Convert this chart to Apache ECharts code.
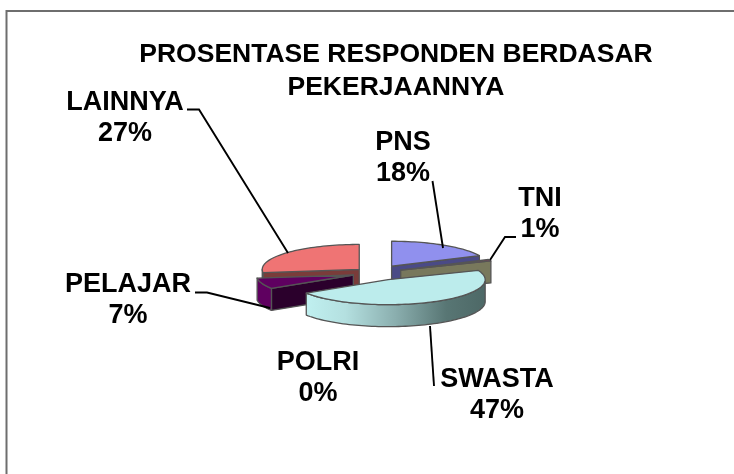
<!DOCTYPE html>
<html>
<head>
<meta charset="utf-8">
<style>html,body{margin:0;padding:0;background:#fff}#c{width:734px;height:474px}</style>
<script src="https://cdn.jsdelivr.net/npm/echarts@6/dist/echarts.min.js"></script>
</head>
<body>
<div id="c"></div>
<script>
// Data
const categories = ['PNS', 'TNI', 'SWASTA', 'POLRI', 'PELAJAR', 'LAINNYA'];
const values = [18, 1, 47, 0, 7, 27];
const titleLines = ['PROSENTASE RESPONDEN BERDASAR', 'PEKERJAANNYA'];

// Styles and layout
const explode = [31, 28, 29, 0, 23, 21];
const topColors = ['#9090ee', '#a02c60', '#bcecec', '#ffffff', '#5f0060', '#ef7474'];
const cutColors = ['#4a4a86', '#78785c', '#bcecec', '#ffffff', '#2b002c', '#7a3c3a'];
const drawOrder = [5, 0, 1, 4, 2];
const labelPos = [[403, 158], [540, 214], [497, 395], [318, 378], [128, 300], [125, 118]];
const leaders = [
  [[432.5, 181], [443, 248]],
  [[516, 237], [505, 237], [490, 260]],
  [[430, 326], [434, 386]],
  null,
  [[195, 292.5], [207, 292.5], [270, 308]],
  [[187, 109.5], [199, 109.5], [288, 253]]
];
const CX = 375, CY = 273, RX = 97, RY = 25, DEPTH = 22;

const total = values.reduce((a, b) => a + b, 0);
const starts = [];
values.reduce((acc, v, i) => { starts[i] = acc; return acc + v; }, 0);
const rad = d => d * Math.PI / 180;

function rim(c, deg, dy) {
  return [c[0] + RX * Math.sin(rad(deg)), c[1] - RY * Math.cos(rad(deg)) + (dy || 0)];
}
function arcPts(c, a0, a1, dy) {
  const pts = [], n = Math.max(2, Math.ceil(Math.abs(a1 - a0) / 2));
  for (let i = 0; i <= n; i++) pts.push(rim(c, a0 + (a1 - a0) * i / n, dy));
  return pts;
}
function poly(points, fill) {
  return { type: 'polygon', shape: { points }, style: { fill, stroke: '#555', lineWidth: 1.3, lineJoin: 'round' } };
}
const swastaWall = {
  type: 'linear', x: 0, y: 0, x2: 1, y2: 0,
  colorStops: [
    { offset: 0, color: '#c0f0f0' }, { offset: 0.22, color: '#b4e0e0' },
    { offset: 0.5, color: '#8aaeae' }, { offset: 0.78, color: '#587674' }, { offset: 1, color: '#4d6866' }
  ]
};

function renderItem(params, api) {
  const i = api.value(0);
  const a0 = starts[i] / total * 360, a1 = (starts[i] + values[i]) / total * 360;
  const mid = rad((a0 + a1) / 2), d = explode[i];
  const c = [CX + d * Math.sin(mid), CY - d * (RY / RX) * Math.cos(mid)];
  const children = [];
  const cut = a => {
    const p = rim(c, a), q = rim(c, a, DEPTH);
    children.push(poly([c, p, q, [c[0], c[1] + DEPTH]], cutColors[i]));
  };
  if (Math.sin(rad(a1)) > 0.001) cut(a1);
  if (Math.sin(rad(a0)) < -0.001) cut(a0);
  const w0 = Math.max(a0, 90), w1 = Math.min(a1, 270);
  if (w1 > w0) {
    const wall = arcPts(c, w0, w1, 0).concat(arcPts(c, w1, w0, DEPTH));
    children.push(poly(wall, categories[i] === 'SWASTA' ? swastaWall : topColors[i]));
  }
  children.push(poly([c].concat(arcPts(c, a0, a1, 0)), topColors[i]));
  return { type: 'group', children };
}

const font = '"Liberation Sans", Arial, sans-serif';
const graphics = [
  { type: 'polyline', silent: true, shape: { points: [[6.5, 474], [6.5, 11], [734, 11]] },
    style: { stroke: '#6e6e6e', lineWidth: 2, fill: null } }
];
leaders.forEach(pts => {
  if (pts) graphics.push({ type: 'polyline', z: 5, shape: { points: pts }, style: { stroke: '#000', lineWidth: 1.9, fill: null } });
});
categories.forEach((name, i) => {
  graphics.push({
    type: 'text', z: 6, x: labelPos[i][0], y: labelPos[i][1],
    style: {
      text: name + '\n' + Math.round(values[i] / total * 100) + '%',
      font: 'bold 27px ' + font, fill: '#000', align: 'center', verticalAlign: 'middle', lineHeight: 31
    }
  });
});

const chart = echarts.init(document.getElementById('c'), null, { renderer: 'canvas' });
chart.setOption({
  animation: false,
  backgroundColor: '#fff',
  title: {
    text: titleLines.join('\n'), left: 391, top: 33, textAlign: 'center',
    textStyle: { fontFamily: font, fontWeight: 'bold', fontSize: 26.5, lineHeight: 33, color: '#000' }
  },
  graphic: graphics,
  series: [{
    type: 'custom', coordinateSystem: 'none', renderItem,
    data: drawOrder.map(i => [i, values[i]])
  }]
});
</script>
</body>
</html>
